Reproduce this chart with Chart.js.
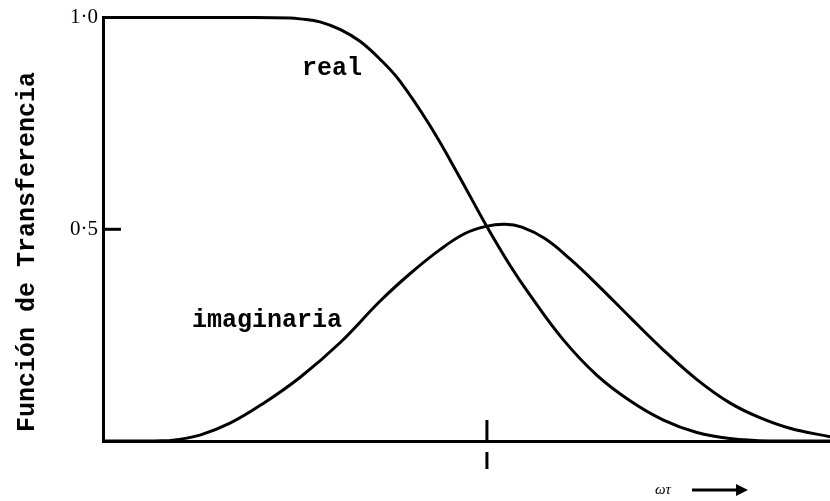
<!DOCTYPE html>
<html>
<head>
<meta charset="utf-8">
<script src="https://cdn.jsdelivr.net/npm/chart.js@4/dist/chart.umd.min.js"></script>
<style>
  html, body { margin: 0; padding: 0; background: #fff; }
  #wrap { width: 830px; height: 501px; }
</style>
</head>
<body>
<div id="wrap"><canvas id="c" width="830" height="501"></canvas></div>
<script>
// log10(ωτ) sample positions and the transfer function components
const wtReal   = [-2.02, -1.247, -1.036, -0.984, -0.879, -0.773, -0.668, -0.563, -0.458, -0.3, -0.142, -0.005, 0.121, 0.226, 0.4, 0.579, 0.753, 0.926, 1.105, 1.278, 1.489, 1.805];
const realPart = [1.0, 1.0, 0.999, 0.997, 0.99, 0.972, 0.944, 0.902, 0.85, 0.745, 0.622, 0.51, 0.415, 0.345, 0.24, 0.155, 0.095, 0.05, 0.02, 0.006, 0, 0];

const wtImag   = [-2.02, -1.773, -1.668, -1.51, -1.352, -1.179, -0.984, -0.773, -0.563, -0.405, -0.247, -0.116, -0.005, 0.095, 0.184, 0.305, 0.437, 0.579, 0.753, 0.926, 1.105, 1.278, 1.436, 1.594, 1.805];
const imagPart = [0, 0, 0.001, 0.014, 0.042, 0.088, 0.15, 0.232, 0.33, 0.395, 0.452, 0.49, 0.507, 0.512, 0.505, 0.478, 0.43, 0.37, 0.292, 0.216, 0.145, 0.09, 0.055, 0.03, 0.01];

const yTickValues = [0.5, 1.0];
const yTickLabels = ['0·5', '1·0'];
const xTickValues = [0];

const seriesNames = ['real', 'imaginaria'];
const yTitle = 'Función de Transferencia';
const xTitle = 'ωτ';

const toPoints = (xs, ys) => xs.map((x, i) => ({ x: x, y: ys[i] }));

const monoBold = 'bold 25px "Liberation Mono", "DejaVu Sans Mono", monospace';

// Annotations: inner ticks, curve names, axis titles and the arrow
const decor = {
  id: 'decor',
  afterDraw(chart) {
    const ctx = chart.ctx;
    const a = chart.chartArea;
    const xs = chart.scales.x, ys = chart.scales.y;
    ctx.save();
    ctx.strokeStyle = '#000';
    ctx.fillStyle = '#000';
    ctx.lineWidth = 3;
    ctx.lineCap = 'butt';

    // short inward tick on the y axis
    yTickValues.filter(v => v < 1).forEach(v => {
      const py = ys.getPixelForValue(v);
      ctx.beginPath();
      ctx.moveTo(a.left, py);
      ctx.lineTo(a.left + 18, py);
      ctx.stroke();
    });

    // tick on the x axis: short stroke above, detached stroke below
    xTickValues.forEach(v => {
      const px = xs.getPixelForValue(v);
      ctx.beginPath();
      ctx.moveTo(px, a.bottom - 21);
      ctx.lineTo(px, a.bottom);
      ctx.moveTo(px, a.bottom + 11);
      ctx.lineTo(px, a.bottom + 28);
      ctx.stroke();
    });

    // curve names
    ctx.font = monoBold;
    ctx.textBaseline = 'alphabetic';
    ctx.textAlign = 'left';
    ctx.fillText(seriesNames[0], 302, 75);
    ctx.fillText(seriesNames[1], 192, 327);

    // rotated y title
    ctx.save();
    ctx.translate(34, 252);
    ctx.rotate(-Math.PI / 2);
    ctx.textAlign = 'center';
    ctx.fillText(yTitle, 0, 0);
    ctx.restore();

    // x title with arrow
    ctx.font = 'italic 15px "Liberation Serif", serif';
    ctx.textAlign = 'left';
    ctx.fillText(xTitle, 655, 494);
    ctx.lineWidth = 3;
    ctx.beginPath();
    ctx.moveTo(692, 490);
    ctx.lineTo(738, 490);
    ctx.stroke();
    ctx.beginPath();
    ctx.moveTo(748, 490);
    ctx.lineTo(736, 484);
    ctx.lineTo(736, 496);
    ctx.closePath();
    ctx.fill();
    ctx.restore();
  }
};

new Chart(document.getElementById('c'), {
  type: 'line',
  data: {
    datasets: [
      {
        label: seriesNames[0],
        data: toPoints(wtReal, realPart),
        borderColor: '#000',
        borderWidth: 3,
        pointRadius: 0,
        tension: 0.4,
        fill: false,
        clip: false
      },
      {
        label: seriesNames[1],
        data: toPoints(wtImag, imagPart),
        borderColor: '#000',
        borderWidth: 3,
        pointRadius: 0,
        tension: 0.4,
        fill: false,
        clip: false
      }
    ]
  },
  options: {
    responsive: false,
    animation: false,
    layout: { padding: { top: 14, right: 0, bottom: 0, left: 0 } },
    plugins: {
      legend: { display: false },
      tooltip: { enabled: false },
      title: { display: false }
    },
    scales: {
      x: {
        type: 'linear',
        min: -2.02,
        max: 1.805,
        afterBuildTicks: s => { s.ticks = []; },
        afterFit: s => { s.height = 60; },
        ticks: { display: false },
        grid: { display: false },
        border: { display: true, color: '#000', width: 3 }
      },
      y: {
        type: 'linear',
        min: 0,
        max: 1,
        afterBuildTicks: s => { s.ticks = yTickValues.map(v => ({ value: v })); },
        afterFit: s => { s.width = 103; },
        ticks: {
          color: '#000',
          padding: 5,
          font: { family: '"Liberation Serif", serif', size: 21 },
          callback: v => yTickLabels[yTickValues.indexOf(v)]
        },
        grid: { display: false, drawTicks: false },
        border: { display: true, color: '#000', width: 3 }
      }
    }
  },
  plugins: [decor]
});
</script>
</body>
</html>
